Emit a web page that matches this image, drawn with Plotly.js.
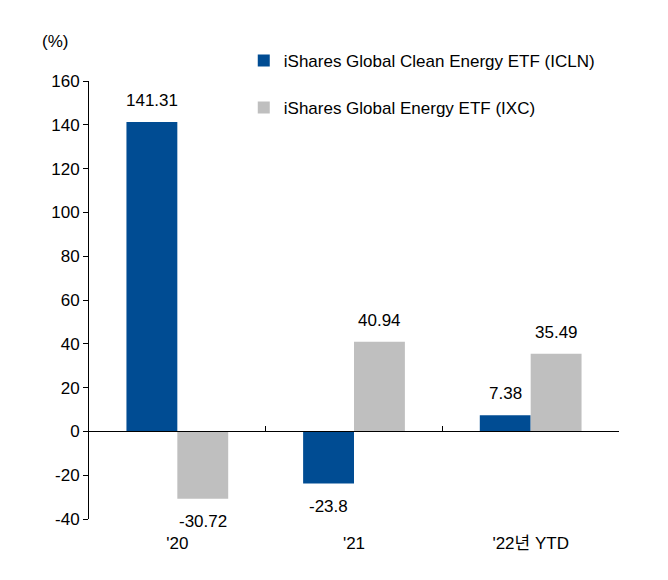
<!DOCTYPE html>
<html><head><meta charset="utf-8">
<script src="https://cdn.plot.ly/plotly-3.0.1.min.js"></script>
<style>body{margin:0;background:#fff}#c{width:668px;height:580px}</style>
</head><body><div id="c"></div>
<script>
var categories = ["'20", "'21", "'22년 YTD"];
var icln = [141.31, -23.8, 7.38];
var ixc = [-30.72, 40.94, 35.49];
var seriesNames = ["iShares Global Clean Energy ETF (ICLN)", "iShares Global Energy ETF (IXC)"];
var yTicks = [-40, -20, 0, 20, 40, 60, 80, 100, 120, 140, 160];

var FONT = "Liberation Sans, Arial, Noto Sans CJK KR, sans-serif";
var FS = 17;
var zeroPos = (0 - (-40)) / (160 - (-40));
var BAR_SHIFT = 25.5;

var traces = [
  {type:'bar', x:categories, y:icln, name:seriesNames[0], legendgroup:'a',
   marker:{color:'#004C93'}, hoverinfo:'none'},
  {type:'bar', x:categories, y:ixc, name:seriesNames[1], legendgroup:'b',
   marker:{color:'#BFBFBF'}, hoverinfo:'none'},
  {type:'scatter', x:categories, y:[0,0,0], xaxis:'x2', yaxis:'y', mode:'none',
   showlegend:false, hoverinfo:'none'}
];

function labelAnns(vals, shift) {
  return vals.map(function (v, i) {
    return {xref:'x', yref:'y', x:categories[i], y:v, text:String(v),
            showarrow:false, xshift:shift, xanchor:'center',
            yanchor: v >= 0 ? 'bottom' : 'top', yshift: v >= 0 ? 10 : -11,
            font:{size:FS, color:'#000'}};
  });
}

var anns = [{text:'(%)', xref:'paper', yref:'paper', x:-0.065, y:1.09,
             xanchor:'center', yanchor:'middle', showarrow:false, font:{size:FS}}]
  .concat(labelAnns(icln, -BAR_SHIFT)).concat(labelAnns(ixc, BAR_SHIFT));

var layout = {
  width:668, height:580,
  margin:{l:89, r:49, t:81, b:61},
  paper_bgcolor:'#fff', plot_bgcolor:'#fff',
  font:{family:FONT, size:FS, color:'#000'},
  barmode:'group', bargap:0.424, bargroupgap:0,
  showlegend:true,
  legend:{x:0.292, y:1.087, xanchor:'left', yanchor:'top', font:{size:FS},
          tracegroupgap:22, bgcolor:'rgba(0,0,0,0)', itemwidth:30},
  xaxis:{type:'category', categoryarray:categories, range:[-0.5,2.5],
         showline:false, ticks:'', showgrid:false, zeroline:false,
         tickfont:{size:FS}, ticklabelstandoff:12},
  xaxis2:{type:'category', categoryarray:categories, range:[-0.5,2.5],
          overlaying:'x', anchor:'free', position:zeroPos,
          showline:true, linecolor:'#000', linewidth:1,
          ticks:'inside', ticklen:5, tickcolor:'#000', tickson:'boundaries',
          showticklabels:false, showgrid:false, zeroline:false},
  yaxis:{range:[-40,160], tickvals:yTicks, ticktext:yTicks.map(String),
         ticks:'outside', ticklen:5,
         tickcolor:'#000', showline:true, linecolor:'#000', linewidth:1,
         showgrid:false, zeroline:false, tickfont:{size:FS}},
  annotations:anns
};
Plotly.newPlot('c', traces, layout, {displayModeBar:false, staticPlot:true});
</script></body></html>
